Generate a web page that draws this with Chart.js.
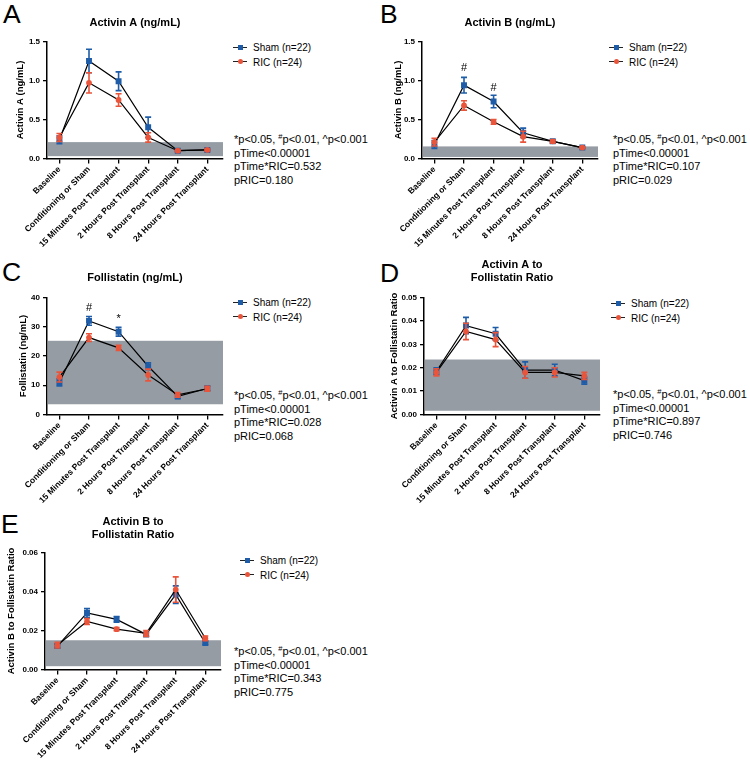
<!DOCTYPE html>
<html>
<head>
<meta charset="utf-8">
<title>Activin and Follistatin</title>
<script src="https://cdn.jsdelivr.net/npm/chart.js@4.4.0/dist/chart.umd.min.js"></script>
<style>
    body { margin: 0; background: #fff; width: 750px; height: 763px; position: relative; overflow: hidden;
           font-family: "Liberation Sans", Arial, sans-serif; color: #000; }
    canvas.panel { position: absolute; }
    .letter { position: absolute; font-size: 26.5px; line-height: 1; }
    .legend { position: absolute; font-size: 10px; line-height: 14.5px; white-space: nowrap; }
    .sym { display: inline-block; position: relative; width: 14px; height: 10px; vertical-align: -1px; margin-right: 6px; }
    .sym::before { content: ""; position: absolute; left: 0; right: 0; top: 4.5px; height: 1.2px; background: #222; }
    .sym i { position: absolute; left: 4.5px; top: 2.5px; width: 5px; height: 5px; }
    .sym i.sq { background: #1f5ca8; }
    .sym i.ci { background: #e9553b; border-radius: 50%; }
    .stats { position: absolute; font-size: 11px; line-height: 13.5px; white-space: nowrap; }
    .stats sup { font-size: 7.5px; line-height: 0; vertical-align: 4px; }
</style>
</head>
<body>

<div class="letter" style="left:3px;top:1px">A</div>
<div class="letter" style="left:380px;top:1px">B</div>
<div class="letter" style="left:2px;top:259px">C</div>
<div class="letter" style="left:380px;top:260px">D</div>
<div class="letter" style="left:1px;top:511px">E</div>

<canvas id="chartA" class="panel" width="233" height="250" style="left:0px;top:0px"></canvas>
<canvas id="chartB" class="panel" width="233" height="250" style="left:375px;top:0px"></canvas>
<canvas id="chartC" class="panel" width="233" height="250" style="left:0px;top:256px"></canvas>
<canvas id="chartD" class="panel" width="233" height="250" style="left:377px;top:256px"></canvas>
<canvas id="chartE" class="panel" width="233" height="250" style="left:-2px;top:511px"></canvas>

<div class="legend" style="left:233px;top:41px">
    <div><span class="sym"><i class="sq"></i></span>Sham (n=22)</div>
    <div><span class="sym"><i class="ci"></i></span>RIC (n=24)</div>
</div>
<div class="legend" style="left:609px;top:41px">
    <div><span class="sym"><i class="sq"></i></span>Sham (n=22)</div>
    <div><span class="sym"><i class="ci"></i></span>RIC (n=24)</div>
</div>
<div class="legend" style="left:233px;top:296px">
    <div><span class="sym"><i class="sq"></i></span>Sham (n=22)</div>
    <div><span class="sym"><i class="ci"></i></span>RIC (n=24)</div>
</div>
<div class="legend" style="left:611px;top:297px">
    <div><span class="sym"><i class="sq"></i></span>Sham (n=22)</div>
    <div><span class="sym"><i class="ci"></i></span>RIC (n=24)</div>
</div>
<div class="legend" style="left:240px;top:554px">
    <div><span class="sym"><i class="sq"></i></span>Sham (n=22)</div>
    <div><span class="sym"><i class="ci"></i></span>RIC (n=24)</div>
</div>

<div class="stats" style="left:234px;top:133px">
    *p&lt;0.05, <sup>#</sup>p&lt;0.01, ^p&lt;0.001<br>pTime&lt;0.00001<br>pTime*RIC=0.532<br>pRIC=0.180
</div>
<div class="stats" style="left:613px;top:133px">
    *p&lt;0.05, <sup>#</sup>p&lt;0.01, ^p&lt;0.001<br>pTime&lt;0.00001<br>pTime*RIC=0.107<br>pRIC=0.029
</div>
<div class="stats" style="left:234px;top:389px">
    *p&lt;0.05, <sup>#</sup>p&lt;0.01, ^p&lt;0.001<br>pTime&lt;0.00001<br>pTime*RIC=0.028<br>pRIC=0.068
</div>
<div class="stats" style="left:613px;top:388px">
    *p&lt;0.05, <sup>#</sup>p&lt;0.01, ^p&lt;0.001<br>pTime&lt;0.00001<br>pTime*RIC=0.897<br>pRIC=0.746
</div>
<div class="stats" style="left:234px;top:645px">
    *p&lt;0.05, <sup>#</sup>p&lt;0.01, ^p&lt;0.001<br>pTime&lt;0.00001<br>pTime*RIC=0.343<br>pRIC=0.775
</div>

<script>
const categories = ['Baseline', 'Conditioning or Sham', '15 Minutes Post Transplant',
                    '2 Hours Post Transplant', '8 Hours Post Transplant', '24 Hours Post Transplant'];

// A - Activin A (ng/mL), mean and SEM
const activinA_sham    = [0.24, 1.25, 0.99, 0.40, 0.10, 0.11];
const activinA_shamSem = [0.05, 0.15, 0.12, 0.13, 0.01, 0.01];
const activinA_ric     = [0.27, 0.97, 0.75, 0.27, 0.10, 0.11];
const activinA_ricSem  = [0.05, 0.13, 0.08, 0.06, 0.01, 0.01];
const activinA_ref     = [0.03, 0.21];
const activinA_yTicks  = [0, 0.5, 1.0, 1.5];

// B - Activin B (ng/mL)
const activinB_sham    = [0.18, 0.94, 0.73, 0.33, 0.22, 0.14];
const activinB_shamSem = [0.05, 0.10, 0.08, 0.06, 0.02, 0.01];
const activinB_ric     = [0.21, 0.68, 0.47, 0.28, 0.22, 0.14];
const activinB_ricSem  = [0.05, 0.06, 0.03, 0.07, 0.02, 0.01];
const activinB_ref     = [0.02, 0.155];
const activinB_yTicks  = [0, 0.5, 1.0, 1.5];
const activinB_marks   = [['#', 1, 1.16], ['#', 2, 0.91]];

// C - Follistatin (ng/mL)
const follistatin_sham    = [11.0, 32.0, 28.3, 16.5, 6.2, 8.9];
const follistatin_shamSem = [1.2, 1.5, 1.5, 1.2, 0.8, 0.8];
const follistatin_ric     = [12.8, 26.3, 22.8, 13.5, 6.7, 8.8];
const follistatin_ricSem  = [1.7, 1.3, 0.9, 2.0, 0.8, 0.8];
const follistatin_ref     = [3.5, 25.2];
const follistatin_yTicks  = [0, 10, 20, 30, 40];
const follistatin_marks   = [['#', 1, 36.4], ['*', 2, 32.6]];

// D - Activin A to Follistatin ratio
const ratioA_sham    = [0.0185, 0.0380, 0.0345, 0.0190, 0.0190, 0.0145];
const ratioA_shamSem = [0.0015, 0.0035, 0.0027, 0.0035, 0.0025, 0.0015];
const ratioA_ric     = [0.0180, 0.0355, 0.0320, 0.0180, 0.0180, 0.0165];
const ratioA_ricSem  = [0.0015, 0.0035, 0.0030, 0.0025, 0.0020, 0.0015];
const ratioA_ref     = [0.0016, 0.0235];
const ratioA_yTicks  = [0, 0.01, 0.02, 0.03, 0.04, 0.05];

// E - Activin B to Follistatin ratio
const ratioB_sham    = [0.0120, 0.0290, 0.0257, 0.0180, 0.0384, 0.0136];
const ratioB_shamSem = [0.0010, 0.0022, 0.0015, 0.0010, 0.0045, 0.0008];
const ratioB_ric     = [0.0125, 0.0246, 0.0207, 0.0185, 0.0410, 0.0160];
const ratioB_ricSem  = [0.0015, 0.0015, 0.0008, 0.0015, 0.0065, 0.0012];
const ratioB_ref     = [0.0017, 0.0150];
const ratioB_yTicks  = [0, 0.02, 0.04, 0.06];

const SHAM_BLUE = '#1f5ca8';
const RIC_RED = '#e9553b';
const FONT = '"Liberation Sans", Arial, sans-serif';
Chart.defaults.font.family = FONT;
Chart.defaults.color = '#000';

// reference band under the lines, SEM bars per dataset, and significance marks
const extras = {
    id: 'extras',
    beforeDatasetsDraw(chart, args, opts) {
        const { ctx, chartArea, scales: { y } } = chart;
        const top = y.getPixelForValue(opts.band[1]);
        const bot = y.getPixelForValue(opts.band[0]);
        ctx.save();
        ctx.fillStyle = '#959ca4';
        ctx.fillRect(chartArea.left + 1, top, chartArea.right - chartArea.left - 1, bot - top);
        ctx.restore();
    },
    afterDatasetDraw(chart, args) {
        const { ctx, scales: { y } } = chart;
        const ds = chart.data.datasets[args.index];
        ctx.save();
        ctx.strokeStyle = ds.pointBackgroundColor;
        ctx.lineWidth = 1.6;
        args.meta.data.forEach((pt, i) => {
            const v = ds.data[i].y, e = ds.sem[i];
            const y1 = y.getPixelForValue(v + e), y2 = y.getPixelForValue(v - e);
            ctx.beginPath();
            ctx.moveTo(pt.x, y1); ctx.lineTo(pt.x, y2);
            ctx.moveTo(pt.x - 3, y1); ctx.lineTo(pt.x + 3, y1);
            ctx.moveTo(pt.x - 3, y2); ctx.lineTo(pt.x + 3, y2);
            ctx.stroke();
        });
        ctx.restore();
    },
    afterDraw(chart, args, opts) {
        if (!opts.marks) return;
        const { ctx, scales: { x, y } } = chart;
        ctx.save();
        ctx.font = '11px ' + FONT;
        ctx.fillStyle = '#000';
        ctx.textAlign = 'center';
        ctx.textBaseline = 'middle';
        opts.marks.forEach(([text, i, v]) => ctx.fillText(text, x.getPixelForValue(i), y.getPixelForValue(v)));
        ctx.restore();
    }
};

function makePanel(id, p) {
    const yMin = p.yTicks[0];
    const yMax = p.yTicks[p.yTicks.length - 1];
    const step = p.yTicks[1] - p.yTicks[0];
    const points = (vals) => categories.map((c, i) => ({ x: i, y: vals[i] }));

    return new Chart(document.getElementById(id).getContext('2d'), {
        type: 'line',
        data: {
            datasets: [{
                label: 'Sham (n=22)',
                data: points(p.sham),
                sem: p.shamSem,
                borderColor: '#000',
                borderWidth: 1.2,
                pointStyle: 'rect',
                pointRadius: 4.2,
                pointBackgroundColor: SHAM_BLUE,
                pointBorderColor: SHAM_BLUE,
                pointBorderWidth: 0,
                order: 1
            }, {
                label: 'RIC (n=24)',
                data: points(p.ric),
                sem: p.ricSem,
                borderColor: '#000',
                borderWidth: 1.2,
                pointStyle: 'circle',
                pointRadius: 2.9,
                pointBackgroundColor: RIC_RED,
                pointBorderColor: RIC_RED,
                pointBorderWidth: 0,
                order: 0
            }]
        },
        options: {
            responsive: false,
            animation: false,
            devicePixelRatio: 1,
            events: [],
            layout: { padding: { left: 0, right: 10, top: 0, bottom: 0 } },
            plugins: {
                legend: { display: false },
                tooltip: { enabled: false },
                title: {
                    display: true,
                    text: p.title,
                    fullSize: false,
                    color: '#000',
                    font: { size: 11, weight: 'bold' },
                    padding: p.titlePad
                },
                extras: { band: p.band, marks: p.marks }
            },
            scales: {
                x: {
                    type: 'linear',
                    min: -0.42,
                    max: 5.53,
                    afterFit: (s) => { s.height = 91.5; },
                    ticks: {
                        stepSize: 1,
                        includeBounds: false,
                        autoSkip: false,
                        minRotation: 45,
                        maxRotation: 45,
                        padding: 1,
                        color: '#000',
                        font: { size: 8.5, weight: 'bold' },
                        callback: (v) => (Number.isInteger(v) && categories[v]) ? categories[v] : ''
                    },
                    grid: { drawOnChartArea: false, drawTicks: true, tickLength: 5, color: '#000', lineWidth: 1.3 },
                    border: { display: true, color: '#000', width: 1.5 }
                },
                y: {
                    min: yMin,
                    max: yMax,
                    afterFit: (s) => { s.width = 47; },
                    ticks: {
                        stepSize: step,
                        padding: 3,
                        color: '#000',
                        font: { size: 8, weight: 'bold' },
                        callback: (v) => v.toFixed(p.decimals)
                    },
                    grid: { drawOnChartArea: false, drawTicks: true, tickLength: 4, color: '#000', lineWidth: 1.3 },
                    border: { display: true, color: '#000', width: 1.5 },
                    title: {
                        display: true,
                        text: p.yTitle,
                        color: '#000',
                        font: { size: 9.5, weight: 'bold' },
                        padding: { top: p.yTitlePad, bottom: 0 }
                    }
                }
            }
        },
        plugins: [extras]
    });
}

makePanel('chartA', {
    title: 'Activin A (ng/mL)', yTitle: 'Activin A (ng/mL)', yTitlePad: 14.3,
    titlePad: { top: 16.4, bottom: 11.9 }, decimals: 1,
    sham: activinA_sham, shamSem: activinA_shamSem, ric: activinA_ric, ricSem: activinA_ricSem,
    band: activinA_ref, yTicks: activinA_yTicks
});
makePanel('chartB', {
    title: 'Activin B (ng/mL)', yTitle: 'Activin B (ng/mL)', yTitlePad: 18,
    titlePad: { top: 16.4, bottom: 11.9 }, decimals: 1,
    sham: activinB_sham, shamSem: activinB_shamSem, ric: activinB_ric, ricSem: activinB_ricSem,
    band: activinB_ref, yTicks: activinB_yTicks, marks: activinB_marks
});
makePanel('chartC', {
    title: 'Follistatin (ng/mL)', yTitle: 'Follistatin (ng/mL)', yTitlePad: 17.3,
    titlePad: { top: 15.4, bottom: 12.9 }, decimals: 0,
    sham: follistatin_sham, shamSem: follistatin_shamSem, ric: follistatin_ric, ricSem: follistatin_ricSem,
    band: follistatin_ref, yTicks: follistatin_yTicks, marks: follistatin_marks
});
makePanel('chartD', {
    title: ['Activin A to', 'Follistatin Ratio'], yTitle: 'Activin A to Follistatin Ratio', yTitlePad: 11.3,
    titlePad: { top: 2.4, bottom: 12.7 }, decimals: 2,
    sham: ratioA_sham, shamSem: ratioA_shamSem, ric: ratioA_ric, ricSem: ratioA_ricSem,
    band: ratioA_ref, yTicks: ratioA_yTicks
});
makePanel('chartE', {
    title: ['Activin B to', 'Follistatin Ratio'], yTitle: 'Activin B to Follistatin Ratio', yTitlePad: 7.3,
    titlePad: { top: 4.4, bottom: 10.7 }, decimals: 2,
    sham: ratioB_sham, shamSem: ratioB_shamSem, ric: ratioB_ric, ricSem: ratioB_ricSem,
    band: ratioB_ref, yTicks: ratioB_yTicks
});
</script>
</body>
</html>
